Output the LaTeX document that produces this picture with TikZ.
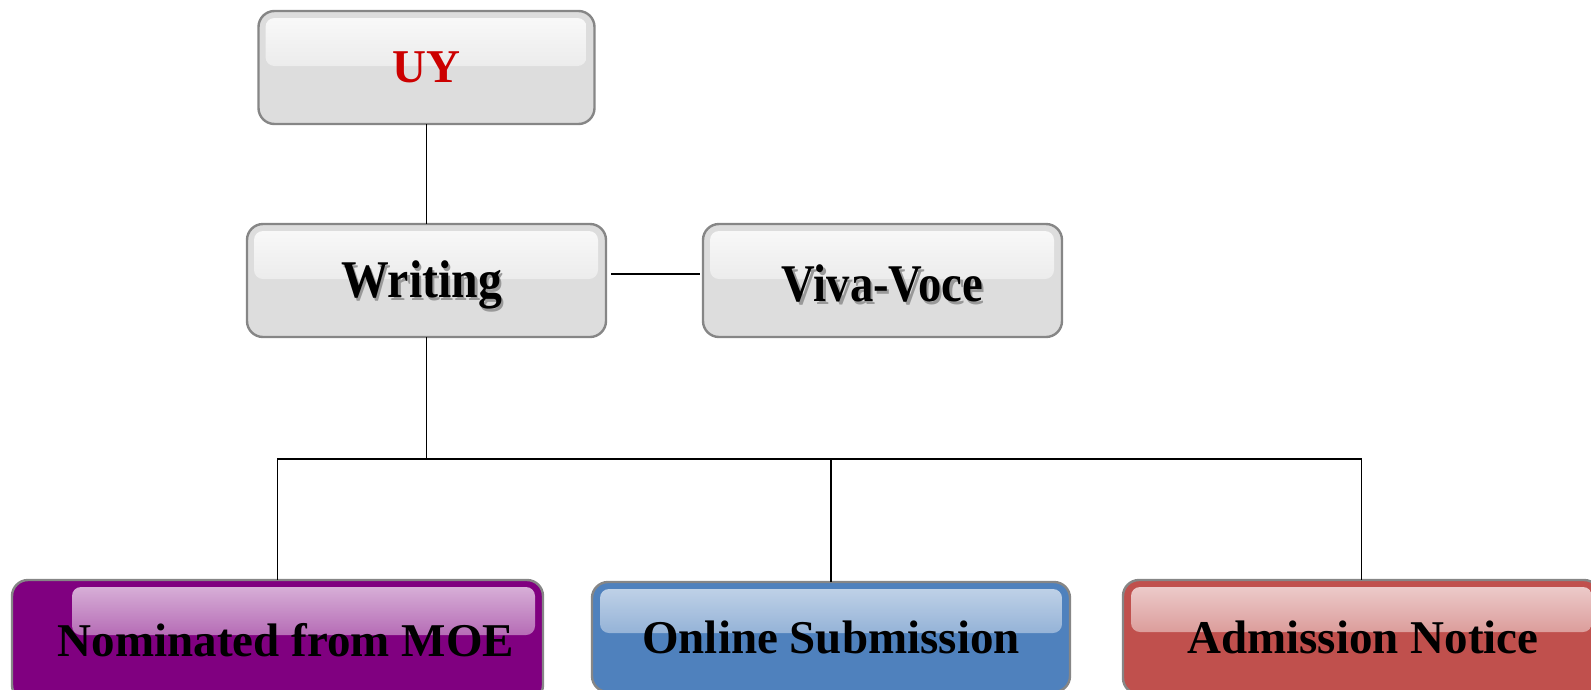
\documentclass[tikz,border=0pt]{standalone}
\usepackage{fontspec}
\setmainfont{Liberation Serif}
\newfontfamily\condserif[FakeStretch=0.88]{Liberation Serif}
\newfontfamily\condserifW[FakeStretch=0.9]{Liberation Serif}
\definecolor{boxgray}{HTML}{DDDDDD}
\definecolor{edgegray}{HTML}{868686}
\definecolor{uyred}{HTML}{CC0000}
\definecolor{mpurple}{HTML}{800080}
\definecolor{mblue}{HTML}{4F81BD}
\definecolor{mred}{HTML}{C0504D}
\newcommand{\shtext}[1]{\rlap{\hspace*{2.5pt}\raisebox{-2.5pt}{\color{black!40}#1}}#1}
\tikzset{
  box/.style={draw=edgegray, line width=2.4pt, rounded corners=16pt, inner sep=0pt, outer sep=0pt, font=\bfseries\fontsize{47}{50}\selectfont},
  hl/.style n args={4}{path picture={\shade[top color=#1, bottom color=#2, rounded corners=9pt]
      ([xshift=#3,yshift=-7pt]path picture bounding box.north west) rectangle
      ([xshift=-8pt,yshift=#4]path picture bounding box.north east);}},
  graybox/.style={box, fill=boxgray, hl={white!85!boxgray}{boxgray}{7pt}{-55pt}},
  link/.style={line width=1.5pt, black}
}
\begin{document}
\begin{tikzpicture}[x=1pt,y=-1pt]
\useasboundingbox (0,0) rectangle (1591,689);
\clip (0,0) rectangle (1591,689);
\node[graybox, minimum width=336pt, minimum height=113pt, text=uyred] (UY) at (426.5,67.5) {UY};
\node[graybox, minimum width=359pt, minimum height=113pt, font=\condserifW\bfseries\fontsize{53}{56}\selectfont] (W) at (426.5,280.5) {\raisebox{-17pt}[0pt][0pt]{\shtext{Writing}}\hspace*{10pt}};
\node[graybox, minimum width=359pt, minimum height=113pt, font=\condserif\bfseries\fontsize{53}{56}\selectfont] (V) at (882.5,280.5) {\raisebox{-21pt}[0pt][0pt]{\shtext{Viva-Voce}}};
\node[box, fill=mpurple, hl={mpurple!28!white}{mpurple!93!white}{60pt}{-55pt}, minimum width=531pt, minimum height=121pt] (N) at (277.5,640.5) {\hspace*{17pt}Nominated from MOE};
\node[box, fill=mblue, hl={mblue!33!white}{mblue!92!white}{8pt}{-51pt}, minimum width=478pt, minimum height=110pt] (O) at (831,637) {Online Submission};
\node[box, fill=mred, hl={mred!26!white}{mred!92!white}{8pt}{-52pt}, minimum width=477pt, minimum height=114pt] (A) at (1361.5,637) {\hspace*{3pt}Admission Notice};
\coordinate (J) at (426.5,459);
\draw[link] (UY.south) -- (W.north);
\draw[link] ([xshift=5pt,yshift=6.5pt]W.east) -- ([xshift=-3pt,yshift=6.5pt]V.west);
\draw[link] (W.south) -- (J);
\draw[link] (N.north) -- (N.north |- J) -- (A.north |- J) -- (A.north);
\draw[link] (O.north) -- (O.north |- J);
\end{tikzpicture}
\end{document}
